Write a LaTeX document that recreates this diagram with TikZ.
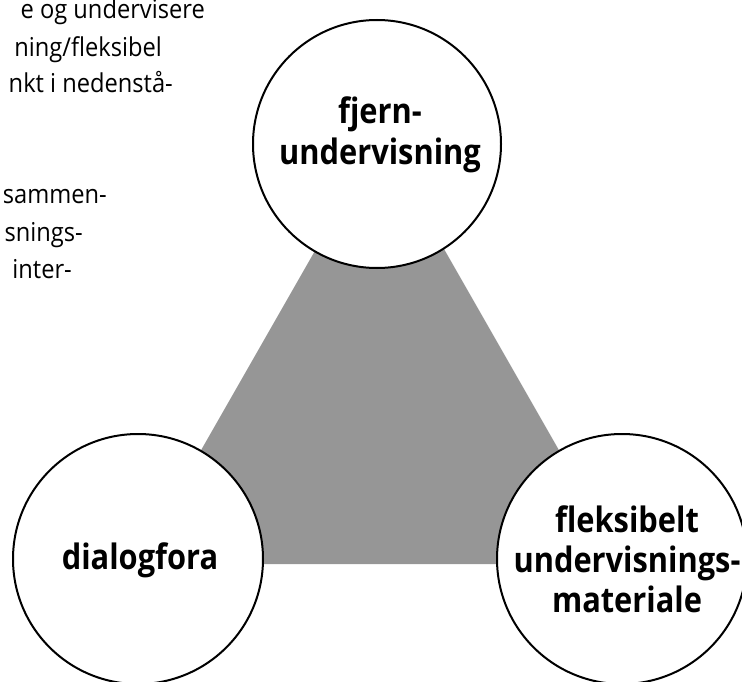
\documentclass[tikz,border=0pt]{standalone}
\usepackage{fontspec}
\setmainfont{Open Sans}
\newfontfamily\lblfont[FakeStretch=0.88]{Open Sans}
\newfontfamily\bodyfont[FakeStretch=0.91]{Open Sans}
\definecolor{trifill}{RGB}{150,150,150}
\begin{document}
\begin{tikzpicture}[x=1pt,y=-1pt,
  ring/.style={circle,draw=black,line width=2pt,fill=white,minimum size=#1,inner sep=0pt},
  lbl/.style={anchor=base,inner sep=0pt,font=\lblfont\fontsize{35}{35}\bfseries\selectfont},
  body/.style={anchor=base east,inner sep=0pt,font=\bodyfont\fontsize{26}{26}\selectfont}]
\useasboundingbox (0,0) rectangle (742,682);
\clip (0,0) rectangle (742,682);
% body text fragments (cropped paragraph)
\node[body] (p1) at (205,19) {e og undervisere};
\node[body] (p2) at (162,57) {ning/fleksibel};
\node[body] (p3) at (173,93) {nkt i nedenstå-};
\node[body] (p4) at (107,204) {sammen-};
\node[body] (p5) at (83,241) {snings-};
\node[body] (p6) at (72,278) {inter-};
% gray triangle
\coordinate (ta) at (380,137);
\coordinate (tb) at (136,564);
\coordinate (tc) at (624,564);
\fill[trifill] (ta) -- (tb) -- (tc) -- cycle;
% circles
\node[ring=248pt] (top) at (377,144) {};
\node[ring=250pt] (left) at (138,559) {};
\node[ring=250pt] (right) at (622,559) {};
% labels
\node[lbl] (top1) at (380,124) {fjern-};
\node[lbl] (top2) at (380,165) {undervisning};
\node[lbl] (left1) at (140,569) {dialogfora};
\node[lbl] (right1) at (627,532) {fleksibelt};
\node[lbl] (right2) at (627,572) {undervisnings-};
\node[lbl] (right3) at (627,612) {materiale};
\end{tikzpicture}
\end{document}
